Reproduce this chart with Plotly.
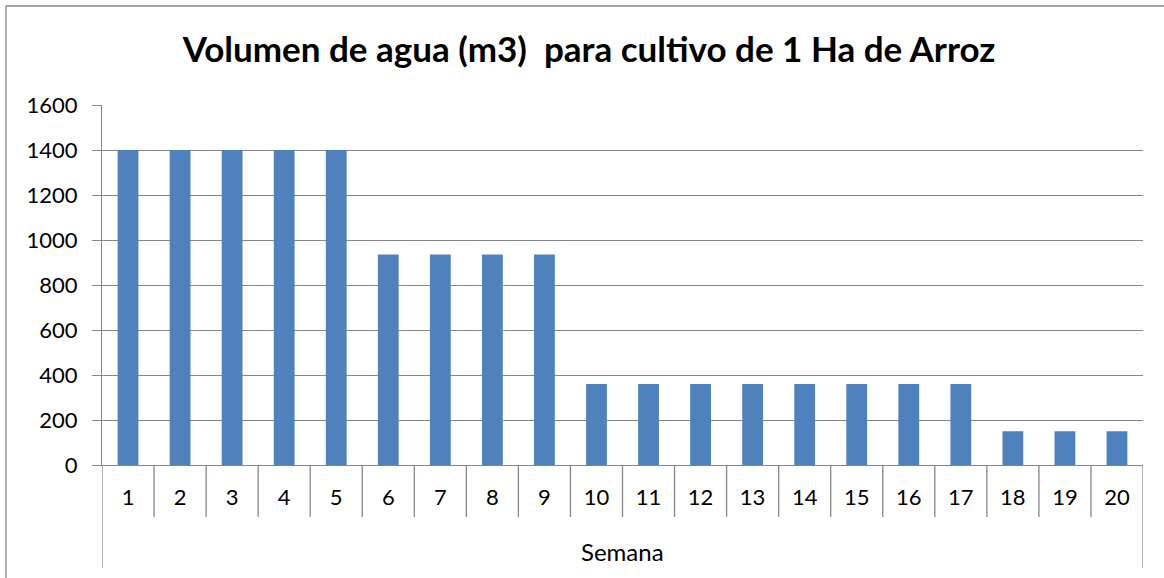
import plotly.graph_objects as go

semanas = list(range(1, 21))
volumen = [1400, 1400, 1400, 1400, 1400,
           936, 936, 936, 936,
           360, 360, 360, 360, 360, 360, 360, 360,
           150, 150, 150]
y_ticks = [0, 200, 400, 600, 800, 1000, 1200, 1400, 1600]
titulo = "Volumen de agua (m3)  para cultivo de 1 Ha de Arroz"
eje_x = "Semana"

GRID = "#868686"
FONT = "Lato"

fig = go.Figure(go.Bar(
    x=semanas, y=volumen,
    marker=dict(color="#4F81BD", line=dict(width=0)),
    width=0.4,
))

shapes = []
n = len(semanas)
for k in range(n + 1):
    xb = semanas[0] - 0.5 + k
    outer = k in (0, n)
    shapes.append(dict(type="line", xref="x", yref="paper",
                       x0=xb, x1=xb, y0=0, y1=(-103 / 360 if outer else -52 / 360),
                       line=dict(color=GRID, width=1.3)))
# chart border (top and left edges)
shapes.append(dict(type="line", xref="paper", yref="paper",
                   x0=-96 / 1041, x1=1.2, y0=459 / 360, y1=459 / 360,
                   line=dict(color=GRID, width=1.3)))
shapes.append(dict(type="line", xref="paper", yref="paper",
                   x0=-96 / 1041, x1=-96 / 1041, y0=459 / 360, y1=-0.5,
                   line=dict(color=GRID, width=1.3)))

fig.update_layout(
    width=1164, height=578,
    margin=dict(l=102, r=21, t=105, b=113),
    paper_bgcolor="white", plot_bgcolor="white",
    showlegend=False,
    font=dict(family=FONT, size=22, color="black"),
    title=dict(text="<b>" + titulo + "</b>", x=0.506, xref="container", xanchor="center",
               y=1 - 50 / 578, yanchor="middle", yref="container",
               font=dict(family=FONT, size=35, color="black")),
    xaxis=dict(range=[0.5, 20.5], tickmode="array", tickvals=semanas,
               ticktext=[str(s) for s in semanas], ticks="", showgrid=False,
               showline=True, linecolor=GRID, linewidth=1.3, zeroline=False,
               ticklabelstandoff=12, tickfont=dict(size=22)),
    yaxis=dict(range=[0, 1600], tickmode="array", tickvals=y_ticks,
               showgrid=True, gridcolor=GRID, gridwidth=1.3,
               ticks="outside", ticklen=9, tickcolor=GRID, tickwidth=1.3,
               showline=True, linecolor=GRID, linewidth=1.3, zeroline=False,
               ticklabelstandoff=10, tickfont=dict(size=22)),
    shapes=shapes,
    annotations=[dict(text=eje_x, xref="paper", yref="paper", x=0.5, y=-86 / 360,
                      xanchor="center", yanchor="middle", showarrow=False,
                      font=dict(family=FONT, size=24, color="black"))],
    bargap=0.6,
)

fig.write_html("out.html", config={"displayModeBar": False},
               post_script="document.body.style.margin='0';document.body.style.padding='0';")
